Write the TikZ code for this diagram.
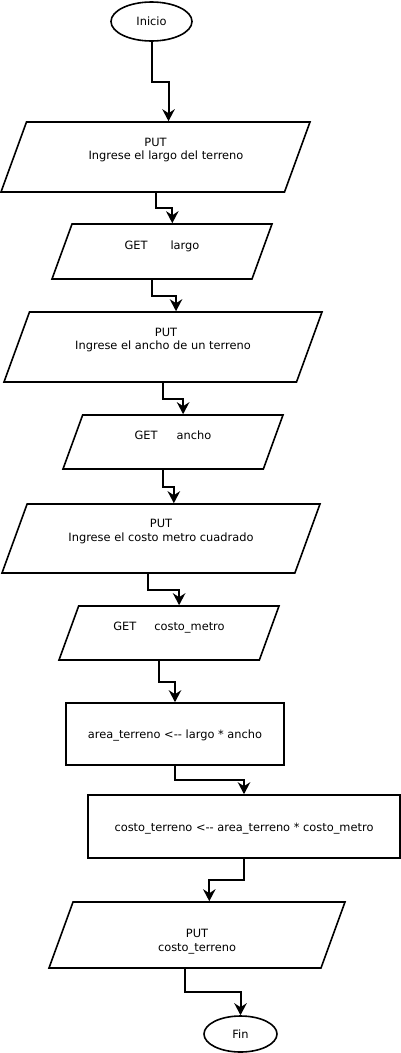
\documentclass[tikz,border=0pt]{standalone}
\usepackage{fontspec}
\setmainfont{DejaVu Sans}
\usetikzlibrary{shapes.geometric,arrows.meta,calc}

\newcommand{\twolines}[2]{\begin{tabular}[b]{@{}c@{}}#1\\#2\end{tabular}}

\tikzset{
  io/.style = {draw, trapezium, trapezium left angle = 70,
    trapezium right angle = 110, trapezium stretches body,
    line width = 1.6pt, inner sep = 0pt},
  proc/.style = {draw, rectangle, line width = 1.6pt, inner sep = 0pt},
  term/.style = {draw, ellipse, line width = 1.6pt, inner sep = 0pt},
  flow/.style = {line width = 2pt,
    -{Stealth[length = 12pt, width = 12.5pt, inset = 4pt]}},
  elbow/.style = {to path = {|- ($(\tikztostart)!.5!(\tikztotarget)$)
    -| (\tikztotarget)}}
}

\begin{document}
\begin{tikzpicture}[x = 1pt, y = -1pt,
  font = \fontsize{11.4}{13.6}\selectfont]
  \useasboundingbox (0, 0) rectangle (401, 1053);
  \node[term, minimum width = 81pt, minimum height = 39pt] (inicio)
  at (151.5, 21.5) {Inicio};
  \node[io, minimum width = 309pt, text height = 37.6pt,
  text depth = 32.4pt] (put1)
  at (155.5, 157) {\twolines{PUT}{\hspace*{21pt}Ingrese el largo del terreno}};
  \node[io, minimum width = 220pt, text height = 25.1pt,
  text depth = 29.9pt] (get1)
  at (162, 251.5) {GET\hspace{23pt}largo};
  \node[io, minimum width = 318pt, text height = 37.6pt,
  text depth = 32.4pt] (put2)
  at (163, 347) {\twolines{\hspace*{6pt}PUT}{Ingrese el ancho de un terreno}};
  \node[io, minimum width = 220pt, text height = 24.6pt,
  text depth = 29.4pt] (get2)
  at (173, 442) {GET\hspace{19pt}ancho};
  \node[io, minimum width = 318pt, text height = 37.1pt,
  text depth = 31.9pt] (put3)
  at (161, 538.5) {\twolines{PUT}{Ingrese el costo metro cuadrado}};
  \node[io, minimum width = 220pt, text height = 24.6pt,
  text depth = 29.4pt] (get3)
  at (169, 633) {GET\hspace{18pt}costo\_metro};
  \node[proc, minimum width = 218pt, text height = 35.8pt,
  text depth = 26.2pt] (area)
  at (175, 734) {area\_terreno <-{}- largo * ancho};
  \node[proc, minimum width = 312pt, text height = 36.3pt,
  text depth = 26.7pt] (costo)
  at (244, 826.5) {costo\_terreno <-{}- area\_terreno * costo\_metro};
  \node[io, minimum width = 296pt, text height = 49.5pt,
  text depth = 16.5pt] (put4)
  at (197, 935) {\twolines{PUT}{costo\_terreno}};
  \node[term, minimum width = 73pt, minimum height = 36pt] (fin)
  at (240.5, 1034) {Fin};

  \draw[flow] (inicio.south) to[elbow] (put1.top side);
  \draw[flow] (put1.south) to[elbow] (get1.top side);
  \draw[flow] (get1.bottom side) to[elbow] (put2.top side);
  \draw[flow] (put2.south) to[elbow] (get2.top side);
  \draw[flow] (get2.bottom side) to[elbow] (put3.top side);
  \draw[flow] (put3.bottom side) to[elbow] (get3.top side);
  \draw[flow] (get3.bottom side) to[elbow] (area.north);
  \draw[flow] (area.south) to[elbow] (costo.north);
  \draw[flow] (costo.south) to[elbow] (put4.top side);
  \draw[flow] (put4.bottom side) to[elbow] (fin.north);
\end{tikzpicture}
\end{document}
